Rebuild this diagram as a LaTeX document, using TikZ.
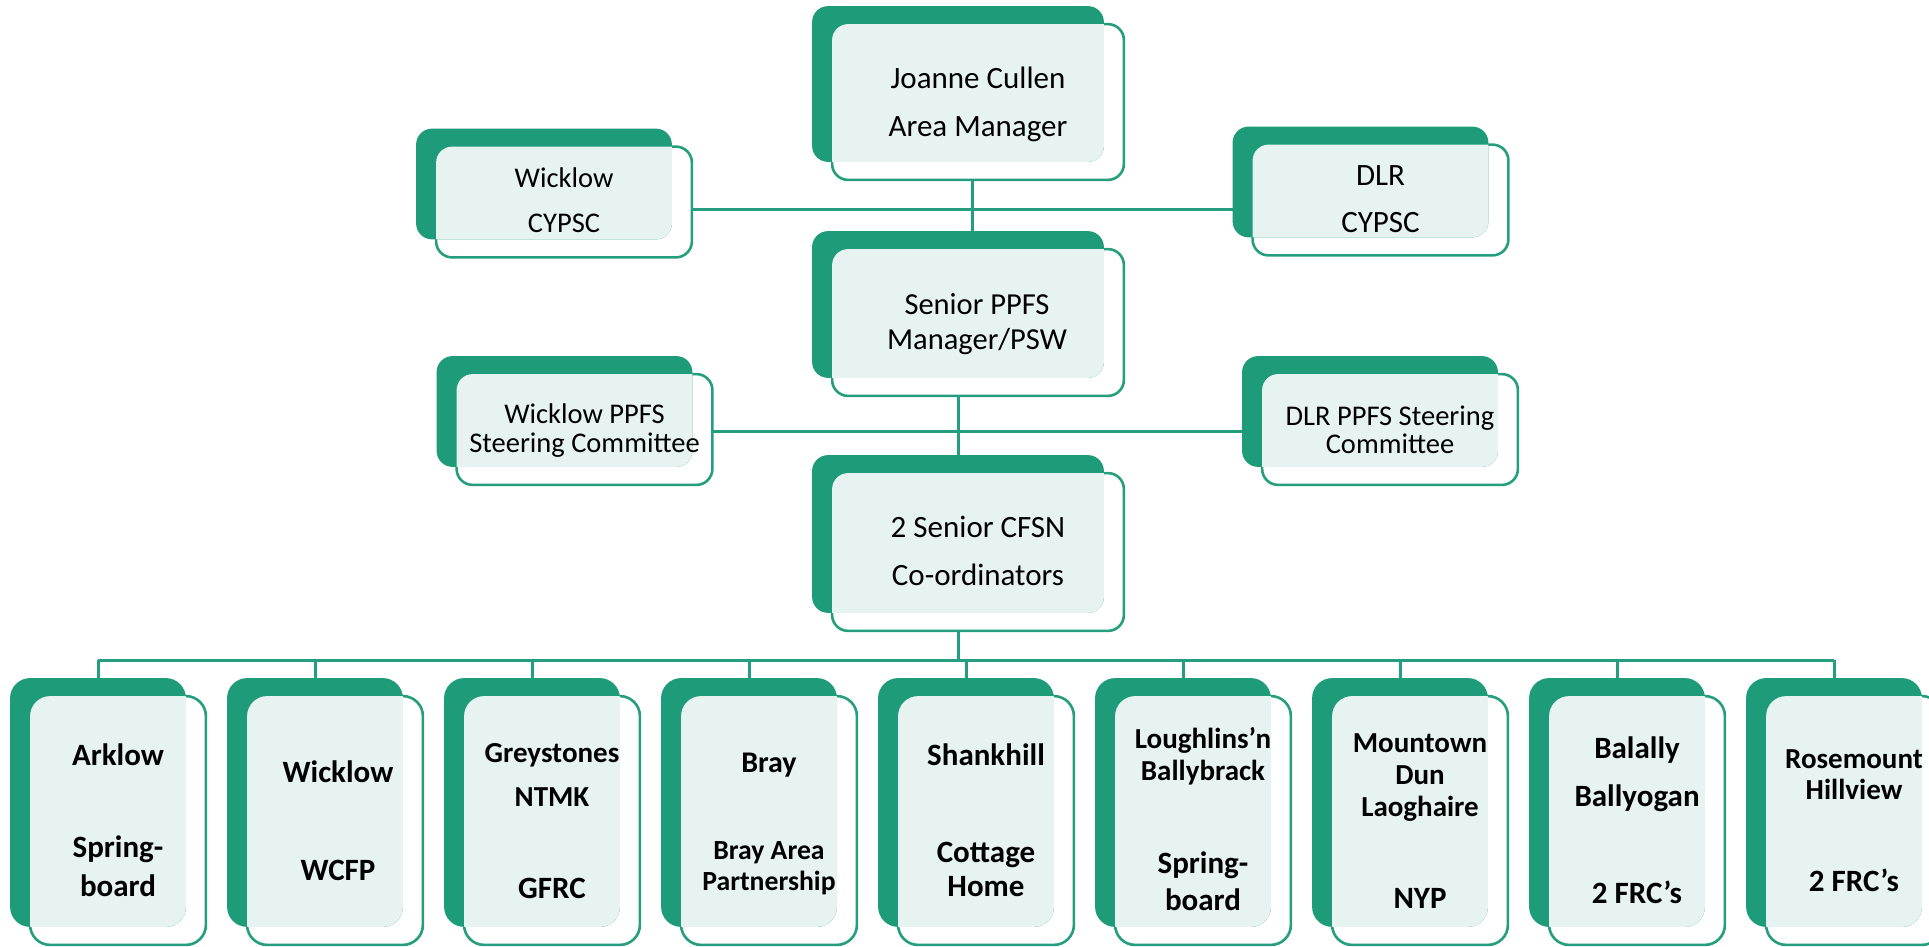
\documentclass[tikz,border=0pt]{standalone}
\usepackage{fontspec}
\setmainfont{Carlito}

\definecolor{orgdark}{RGB}{30,155,121}
\definecolor{orglight}{RGB}{230,243,240}
\definecolor{orgline}{RGB}{36,158,126}

\pgfdeclarelayer{lines}
\pgfdeclarelayer{boxes}
\pgfsetlayers{lines,boxes,main}

\newcommand{\setfs}[2]{\fontsize{#1}{#2}\selectfont}
% front frame, dark card behind it, light overlap
\newcommand{\orgdeco}[2]{%
  \draw[boxline, rounded corners=#2] (#1.north west) rectangle (#1.south east);
  \fill[orgdark, rounded corners=#2] ([shift={(-20,-18)}]#1.north west) rectangle ([shift={(-20,-18)}]#1.south east);
  \begin{scope}
    \clip[rounded corners=#2] (#1.north west) rectangle (#1.south east);
    \fill[orglight, rounded corners=#2] ([shift={(-20,-18)}]#1.north west) rectangle ([shift={(-20,-18)}]#1.south east);
  \end{scope}}

\begin{document}
\begin{tikzpicture}[x=0.5pt, y=-0.5pt,
  boxline/.style={draw=orgline, line width=1.3pt, fill=white},
  link/.style={draw=orgline, line width=1.5pt},
  bigbox/.style={rectangle, inner sep=0pt, minimum width=145.5pt},
  sidebox/.style={rectangle, inner sep=0pt, minimum width=127.5pt, minimum height=55pt},
  unitbox/.style={rectangle, inner sep=0pt, minimum width=87.5pt, minimum height=124pt},
  txt/.style={anchor=base, align=center, inner sep=0pt},
  btxt/.style={txt, font=\bfseries}]
\useasboundingbox (0,0) rectangle (1929,947);

% frames
\node[bigbox, minimum height=77.5pt] (jc) at (978,102) {};
\node[sidebox] (wcy) at (564,202) {};
\node[sidebox] (dcy) at (1380.5,200) {};
\node[bigbox, minimum height=73pt] (ppfs) at (978,322.5) {};
\node[sidebox] (wst) at (584.5,429.5) {};
\node[sidebox] (dst) at (1390,429.5) {};
\node[bigbox, minimum height=78.5pt] (cfsn) at (978,552) {};
\foreach \i in {0,...,8}
  \node[unitbox] (b\i) at (118+217*\i,820.5) {};

% texts (placed at the baseline of their last line)
\node[txt, font=\setfs{15.5}{24.5}] (jc-t) at (978,137) {Joanne Cullen\\Area Manager};
\node[txt, font=\setfs{14.25}{22.5}] (wcy-t) at (564,233) {Wicklow\\CYPSC};
\node[txt, font=\setfs{15.5}{24}] (dcy-t) at (1380.5,233) {DLR\\CYPSC};
\node[txt, font=\setfs{15.25}{17.5}] (ppfs-t) at (977,349) {Senior PPFS\\Manager/PSW};
\node[txt, font=\setfs{14.25}{14.5}] (wst-t) at (584.5,452) {Wicklow PPFS\\Steering Committee};
\node[txt, font=\setfs{14.25}{14}] (dst-t) at (1390,453) {DLR PPFS Steering\\Committee};
\node[txt, font=\setfs{15.5}{24}] (cfsn-t) at (978,585) {2 Senior CFSN\\Co-ordinators};

\node[btxt, font=\bfseries\setfs{15.5}{19.5}] (b0-t) at (118,896) {Arklow\\[26.5pt]Spring-\\board};
\node[btxt, font=\bfseries\setfs{15.5}{19.5}] (b1-t) at (338,880) {Wicklow\\[29.5pt]WCFP};
\node[btxt, font=\bfseries\setfs{14.5}{22}] (b2-t) at (552,898) {Greystones\\NTMK\\[24pt]{\setfs{15.5}{22}GFRC}};
\node[btxt, font=\bfseries\setfs{13.85}{15.5}] (b3-t) at (769,890) {{\setfs{15}{15.5}Bray}\\[28pt]Bray Area\\Partnership};
\node[btxt, font=\bfseries\setfs{15.5}{17}] (b4-t) at (986,896) {Shankhill\\[31.5pt]Cottage\\Home};
\node[btxt, font=\bfseries\setfs{14.5}{16}] (b5-t) at (1203,910) {Loughlins’n\\Ballybrack\\[30.5pt]{\setfs{15.5}{16}Spring-}\\[2.5pt]{\setfs{15.5}{16}board}};
\node[btxt, font=\bfseries\setfs{14.5}{16}] (b6-t) at (1420,908) {Mountown\\Dun\\Laoghaire\\[30pt]{\setfs{15.5}{16}NYP}};
\node[btxt, font=\bfseries\setfs{15.5}{24}] (b7-t) at (1637,903) {Balally\\Ballyogan\\[24.5pt]2 FRC’s};
\node[btxt, font=\bfseries\setfs{14.5}{15.5}] (b8-t) at (1854,891) {Rosemount\\Hillview\\[30.5pt]{\setfs{15.5}{15.5}2 FRC’s}};

\begin{pgfonlayer}{boxes}
\foreach \bx in {jc,wcy,dcy,ppfs,wst,dst,cfsn}
  {\orgdeco{\bx}{8pt}}
\foreach \i in {0,...,8}
  {\orgdeco{b\i}{10pt}}
\end{pgfonlayer}

% connectors
\coordinate (cyp) at (972,210);
\coordinate (stj) at (958,431);
\coordinate (bus) at (958,660);
\begin{pgfonlayer}{lines}
\draw[link] ([xshift=-3pt]jc.south) -- ([xshift=-3pt]ppfs.north);
\draw[link] (wcy.east |- cyp) -- (dcy.west |- cyp);
\draw[link] ([xshift=-10pt]ppfs.south) -- ([xshift=-10pt]cfsn.north);
\draw[link] (wst.east |- stj) -- (dst.west |- stj);
\draw[link] ([xshift=-10pt]cfsn.south) -- (bus);
\draw[link] ([xshift=-10pt]b0.north |- bus) -- ([xshift=-10pt]b8.north |- bus);
\foreach \i in {0,...,8}
  \draw[link] ([xshift=-10pt]b\i.north |- bus) -- ([xshift=-10pt]b\i.north);
\end{pgfonlayer}
\end{tikzpicture}
\end{document}
